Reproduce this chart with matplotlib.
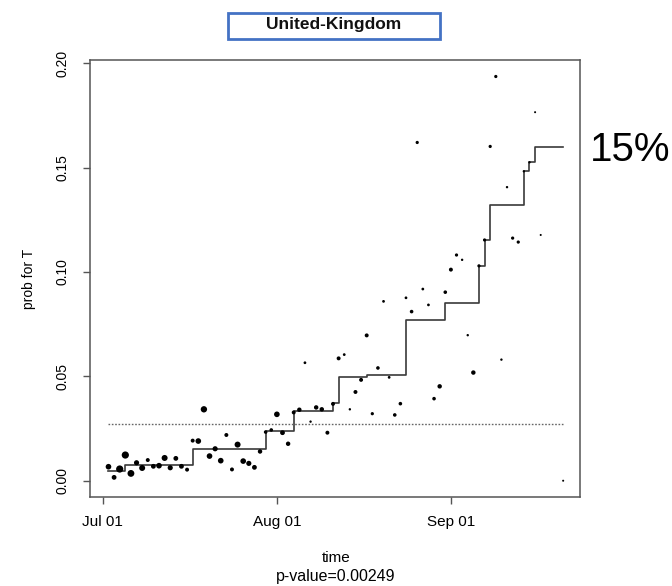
import numpy as np
import matplotlib
matplotlib.use('Agg')
import matplotlib.pyplot as plt
import matplotlib.dates as mdates
from matplotlib.patches import Rectangle

plt.rcParams['font.family'] = ['Liberation Sans', 'DejaVu Sans']

# daily observations, days counted from Jul 01
obs_day = list(range(1, 50)) + list(range(50, 79)) + [82]
obs_prob = [0.0067, 0.0016, 0.0056, 0.0123, 0.0035, 0.0086, 0.0061, 0.0099, 0.0069, 0.0072,
            0.0109, 0.0062, 0.0107, 0.0069, 0.0053, 0.0192, 0.0190, 0.0342, 0.0118, 0.0153,
            0.0096, 0.0219, 0.0054, 0.0173, 0.0094, 0.0083, 0.0064, 0.0140, 0.0233, 0.0243,
            0.0318, 0.0230, 0.0177, 0.0327, 0.0340, 0.0565, 0.0283, 0.0351, 0.0342, 0.0230,
            0.0368, 0.0586, 0.0604, 0.0342, 0.0425, 0.0483, 0.0696, 0.0321, 0.0540,
            0.0859, 0.0495, 0.0315, 0.0369, 0.0876, 0.0810, 0.1620, 0.0918, 0.0842, 0.0393,
            0.0452, 0.0903, 0.1011, 0.1081, 0.1058, 0.0697, 0.0518, 0.1029, 0.1153, 0.1601,
            0.1936, 0.0580, 0.1406, 0.1162, 0.1143, 0.1482, 0.1525, 0.1765, 0.1177,
            0.0]
# dot diameters in pixels (weight of each day)
obs_size = [4.7, 4.0, 6.0, 6.0, 5.7, 4.3, 5.0, 3.3, 4.0, 4.7,
            5.0, 4.3, 4.0, 4.0, 3.3, 3.3, 4.7, 5.3, 4.7, 4.3,
            4.7, 3.3, 3.3, 5.0, 4.7, 4.3, 4.0, 3.7, 3.0, 3.0,
            4.7, 4.0, 3.7, 3.3, 3.7, 2.3, 2.0, 3.7, 3.7, 3.3,
            3.3, 3.3, 2.3, 2.0, 3.3, 3.3, 3.3, 2.7, 3.0,
            2.3, 2.3, 3.0, 3.0, 2.3, 3.0, 2.7, 2.3, 2.3, 3.0,
            3.7, 3.0, 3.3, 2.7, 2.0, 2.0, 3.7, 2.7, 2.7, 2.7,
            2.7, 2.0, 2.0, 2.7, 2.7, 2.0, 2.0, 1.7, 1.7,
            1.7]

# fitted monotone step curve
step_day = [1, 4, 16, 29, 34, 41, 42, 47, 54, 61, 67, 68, 69, 75, 76, 77]
step_prob = [0.0048, 0.0077, 0.0150, 0.0240, 0.0336, 0.0371, 0.0496, 0.0507,
             0.0771, 0.0849, 0.1030, 0.1154, 0.1319, 0.1483, 0.1527, 0.1596]
step_end = 82
baseline = 0.0272

start = np.datetime64('2021-07-01')
to_date = lambda days: start + np.array(days, dtype='timedelta64[D]')

fig = plt.figure(figsize=(6.72, 5.86), dpi=100)
ax = fig.add_axes([90 / 672, 89 / 586, 490 / 672, 437 / 586])

d = to_date(obs_day)
ax.scatter(d, obs_prob, s=(np.array(obs_size) * 0.72 * 1.2) ** 2, color='black',
           linewidths=0, zorder=3)

sx = to_date(step_day + [step_end])
sy = step_prob + [step_prob[-1]]
ax.step(sx, sy, where='post', color='#3a3a3a', linewidth=1.2, zorder=2)

ax.hlines(baseline, to_date([1])[0], to_date([step_end])[0], colors='#666666',
          linestyles=(0, (1.2, 1.2)), linewidth=1.0)

ax.set_xlim(start - np.timedelta64(55, 'h'), start + np.timedelta64(85 * 24, 'h'))
ax.set_ylim(-0.0078, 0.2015)

ax.set_xticks(to_date([0, 31, 62]))
ax.xaxis.set_major_formatter(mdates.DateFormatter('%b %d'))
ax.set_yticks([0.0, 0.05, 0.10, 0.15, 0.20])
ax.set_yticklabels(['0.00', '0.05', '0.10', '0.15', '0.20'], rotation=90, va='center')

for s in ax.spines.values():
    s.set_color('#555555')
    s.set_linewidth(1.1)
ax.tick_params(direction='out', length=5, width=1, color='#555555',
               labelsize=11, pad=8)
ax.tick_params(axis='y', labelsize=10, pad=10)

ax.set_ylabel('prob for T', fontsize=10, labelpad=14)
fig.text(336 / 672, 1 - 558 / 586, 'time', ha='center', va='center', fontsize=11)
fig.text(336 / 672, 1 - 576 / 586, 'p-value=0.00249', ha='center', va='center', fontsize=11.5)

# title in a blue framed box
fig.patches.append(Rectangle((228 / 672, 1 - 38.5 / 586), 212 / 672, 26 / 586,
                             transform=fig.transFigure, facecolor='white',
                             edgecolor='#4472C4', linewidth=2))
fig.text(334 / 672, 1 - 25 / 586, 'United-Kingdom', ha='center', va='center',
         fontsize=12.5, fontweight='bold', color='#111111')
fig.text(590 / 672, 1 - 150 / 586, '15%', ha='left', va='center', fontsize=29)

plt.savefig('out.png', dpi=100)
plt.close()
